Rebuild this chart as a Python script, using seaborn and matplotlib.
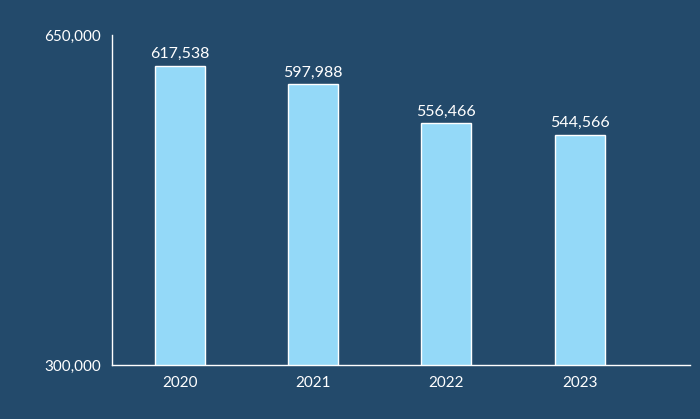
import matplotlib
matplotlib.use("Agg")
import matplotlib.pyplot as plt
import seaborn as sns
import pandas as pd

years = ["2020", "2021", "2022", "2023"]
values = [617538, 597988, 556466, 544566]
yticks = [300000, 650000]

bg = "#234a6b"
bar = "#94d9f8"
sns.set_theme(style="white")
plt.rcParams['font.family'] = ['Lato', 'DejaVu Sans']

fig = plt.figure(figsize=(7, 4.19), dpi=100, facecolor=bg)
ax = fig.add_axes([0.16, 0.129, 0.826, 0.787])
ax.set_facecolor(bg)
df = pd.DataFrame({"year": years, "value": values})
sns.barplot(data=df, x="year", y="value", color=bar, width=0.376, saturation=1, ax=ax)
ax.set_xlim(-0.511, 3.83)
ax.set_ylim(300000, 650000)
ax.set_yticks(yticks)
ax.set_yticklabels([f"{v:,}" for v in yticks])
ax.set_xlabel("")
ax.set_ylabel("")
for i, v in enumerate(values):
    ax.text(i, v + 5000, f"{v:,}", ha="center", va="bottom", color="white", fontsize=11.5)
for s in ["top", "right"]:
    ax.spines[s].set_visible(False)
for s in ["left", "bottom"]:
    ax.spines[s].set_color("white")
    ax.spines[s].set_linewidth(1)
ax.tick_params(colors="white", labelsize=11, length=0, pad=8)
fig.savefig("out.png", dpi=100, facecolor=bg)
